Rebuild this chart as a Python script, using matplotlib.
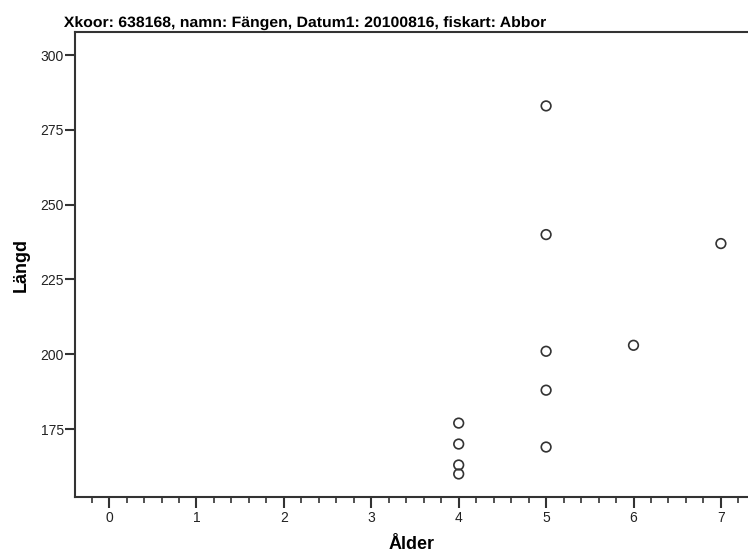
import numpy as np
import matplotlib.pyplot as plt
from matplotlib.ticker import MultipleLocator
from matplotlib.textpath import TextPath
from matplotlib.patches import PathPatch
from matplotlib.font_manager import FontProperties
from matplotlib.transforms import Affine2D

# data
alder = [4, 4, 4, 4, 5, 5, 5, 5, 5, 6, 7]
langd = [177, 170, 163, 160, 283, 240, 201, 188, 169, 203, 237]

x_ticks = [0, 1, 2, 3, 4, 5, 6, 7]
y_ticks = [175, 200, 225, 250, 275, 300]
title = 'Xkoor: 638168, namn: Fängen, Datum1: 20100816, fiskart: Abbor'

fig = plt.figure(figsize=(7.48, 5.56), dpi=100)
ax = fig.add_axes([75/748, 59/556, 673/748, 465/556])

ax.scatter(alder, langd, s=48, facecolors='none', edgecolors='#333333', linewidths=1.2, zorder=3)

ax.set_xlim(-0.39, 7.31)
ax.set_ylim(152.3, 307.7)
ax.set_xticks(x_ticks)
ax.set_yticks(y_ticks)
ax.xaxis.set_minor_locator(MultipleLocator(0.2))

for side in ['left', 'bottom', 'top']:
    ax.spines[side].set_color('#333333')
    ax.spines[side].set_linewidth(1.5)
ax.spines['right'].set_visible(False)

ax.tick_params(axis='x', which='major', direction='out', length=8, width=1.5, color='#333333',
               labelsize=10, pad=2)
ax.tick_params(axis='x', which='minor', direction='out', length=4, width=1.2, color='#333333')
ax.tick_params(axis='y', which='major', direction='out', length=7, width=1.5, color='#333333',
               labelsize=10, pad=1)
for lab in ax.get_xticklabels() + ax.get_yticklabels():
    lab.set_family('Liberation Sans')
    lab.set_color('#222222')

ax.set_xlabel('Ålder', fontsize=13, fontweight='bold', family='Liberation Sans', labelpad=8)
ax.set_ylabel('Längd', fontsize=13, fontweight='bold', family='Liberation Sans', labelpad=8)

# bold, narrow title squeezed to the reference width (pixel coords, dpi 100)
tp = TextPath((0, 0), title, size=15, prop=FontProperties(family='Liberation Sans', weight='bold'))
ext = tp.get_extents()
sx = 482 / ext.width
tr = Affine2D().translate(-ext.x0, 0).scale(sx, 1.0).translate(64, 556 - 27)
fig.patches.append(PathPatch(tp, transform=tr, facecolor='black', edgecolor='none', figure=fig))

fig.savefig('out.png', dpi=100)
